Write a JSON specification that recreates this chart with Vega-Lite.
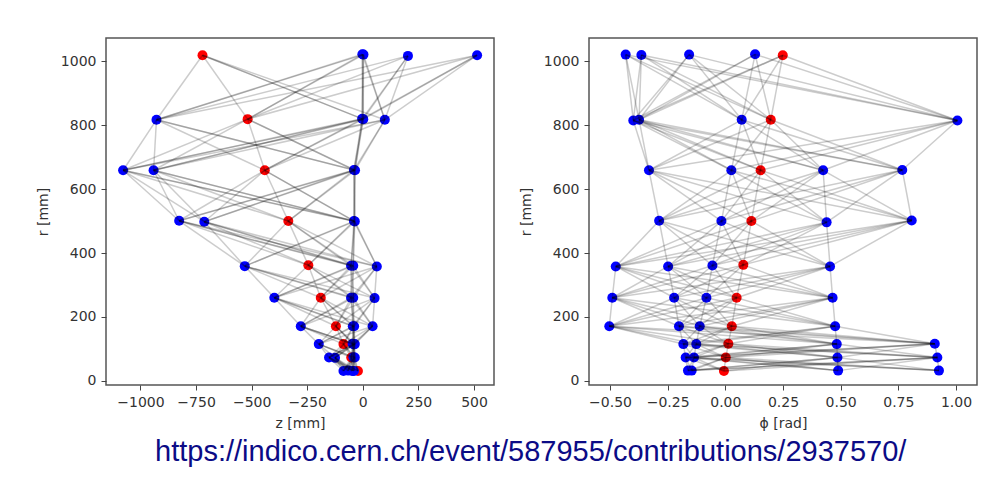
{
  "$schema": "https://vega.github.io/schema/vega-lite/v6.json",
  "padding": {"left": 35, "top": 37, "right": 5, "bottom": 5},
  "autosize": {"type": "pad"},
  "background": "white",
  "title": {"text": "https://indico.cern.ch/event/587955/contributions/2937570/", "orient": "bottom", "anchor": "middle", "font": "Liberation Sans", "fontSize": 29, "fontWeight": "normal", "color": "#0b0b86", "offset": 7, "dx": 24},
  "datasets": {
    "zn": [
      {"id": "1a", "x": -22, "r": 31, "c": "r", "to": ["2a","2b","2c","2d","2e"]},
      {"id": "1b", "x": -87, "r": 31, "c": "b", "to": ["2a","2b","2c","2d","2e"]},
      {"id": "1c", "x": -66, "r": 32, "c": "b", "to": ["2a","2b","2c","2d","2e"]},
      {"id": "1d", "x": -48, "r": 31, "c": "b", "to": ["2a","2b","2c","2d","2e"]},
      {"id": "1e", "x": -40, "r": 31, "c": "b", "to": ["2a","2b","2c","2d","2e"]},
      {"id": "2a", "x": -52, "r": 73, "c": "r", "to": ["3a","3b","3c","3d","3e"]},
      {"id": "2b", "x": -152, "r": 73, "c": "b", "to": ["3a","3b","3c","3d","3e"]},
      {"id": "2c", "x": -125, "r": 72, "c": "b", "to": ["3a","3b","3c","3d","3e"]},
      {"id": "2d", "x": -42, "r": 74, "c": "b", "to": ["3a","3b","3c","3d","3e"]},
      {"id": "2e", "x": -36, "r": 73, "c": "b", "to": ["3a","3b","3c","3d","3e"]},
      {"id": "3a", "x": -87, "r": 115, "c": "r", "to": ["4a","4b","4c","4d","4e"]},
      {"id": "3b", "x": -198, "r": 115, "c": "b", "to": ["4a","4b","4c","4d","4e"]},
      {"id": "3c", "x": -46, "r": 116, "c": "b", "to": ["4a","4b","4c","4d","4e"]},
      {"id": "3d", "x": -40, "r": 114, "c": "b", "to": ["4a","4b","4c","4d","4e"]},
      {"id": "3e", "x": -36, "r": 115, "c": "b", "to": ["4a","4b","4c","4d","4e"]},
      {"id": "4a", "x": -121, "r": 171, "c": "r", "to": ["5a","5b","5c","5d","5e"]},
      {"id": "4b", "x": -279, "r": 171, "c": "b", "to": ["5a","5b","5c","5d","5e"]},
      {"id": "4c", "x": -45, "r": 171, "c": "b", "to": ["5a","5b","5c","5d","5e"]},
      {"id": "4d", "x": -39, "r": 171, "c": "b", "to": ["5a","5b","5c","5d","5e"]},
      {"id": "4e", "x": 44, "r": 171, "c": "b", "to": ["5a","5b","5c","5d","5e"]},
      {"id": "5a", "x": -189, "r": 260, "c": "r", "to": ["6a","6b","6c","6d","6e"]},
      {"id": "5b", "x": -398, "r": 260, "c": "b", "to": ["6a","6b","6c","6d","6e"]},
      {"id": "5c", "x": -53, "r": 260, "c": "b", "to": ["6a","6b","6c","6d","6e"]},
      {"id": "5d", "x": -43, "r": 260, "c": "b", "to": ["6a","6b","6c","6d","6e"]},
      {"id": "5e", "x": 53, "r": 259, "c": "b", "to": ["6a","6b","6c","6d","6e"]},
      {"id": "6a", "x": -245, "r": 362, "c": "r", "to": ["7a","7b","7c","7d","7e"]},
      {"id": "6b", "x": -531, "r": 359, "c": "b", "to": ["7a","7b","7c","7d","7e"]},
      {"id": "6c", "x": -53, "r": 360, "c": "b", "to": ["7a","7b","7c","7d","7e"]},
      {"id": "6d", "x": -43, "r": 360, "c": "b", "to": ["7a","7b","7c","7d","7e"]},
      {"id": "6e", "x": 63, "r": 358, "c": "b", "to": ["7a","7b","7c","7d","7e"]},
      {"id": "7a", "x": -335, "r": 500, "c": "r", "to": ["8a","8b","8c","8d","8e"]},
      {"id": "7b", "x": -826, "r": 501, "c": "b", "to": ["8a","8b","8c","8d","8e"]},
      {"id": "7c", "x": -713, "r": 498, "c": "b", "to": ["8a","8b","8c","8d","8e"]},
      {"id": "7d", "x": -40, "r": 500, "c": "b", "to": ["8a","8b","8c","8d","8e"]},
      {"id": "7e", "x": -36, "r": 499, "c": "b", "to": ["8a","8b","8c","8d","8e"]},
      {"id": "8a", "x": -441, "r": 659, "c": "r", "to": ["9a","9b","9c","9d","9e"]},
      {"id": "8b", "x": -1078, "r": 659, "c": "b", "to": ["9a","9b","9c","9d","9e"]},
      {"id": "8c", "x": -941, "r": 659, "c": "b", "to": ["9a","9b","9c","9d","9e"]},
      {"id": "8d", "x": -40, "r": 660, "c": "b", "to": ["9a","9b","9c","9d","9e"]},
      {"id": "8e", "x": -35, "r": 659, "c": "b", "to": ["9a","9b","9c","9d","9e"]},
      {"id": "9a", "x": -518, "r": 819, "c": "r", "to": ["10a","10b","10c","10d","10e"]},
      {"id": "9b", "x": -928, "r": 817, "c": "b", "to": ["10a","10b","10c","10d","10e"]},
      {"id": "9c", "x": -3, "r": 820, "c": "b", "to": ["10a","10b","10c","10d","10e"]},
      {"id": "9d", "x": 2, "r": 819, "c": "b", "to": ["10a","10b","10c","10d","10e"]},
      {"id": "9e", "x": 99, "r": 817, "c": "b", "to": ["10a","10b","10c","10d","10e"]},
      {"id": "10a", "x": -721, "r": 1019, "c": "r", "to": []},
      {"id": "10b", "x": -2, "r": 1022, "c": "b", "to": []},
      {"id": "10c", "x": 3, "r": 1021, "c": "b", "to": []},
      {"id": "10d", "x": 203, "r": 1017, "c": "b", "to": []},
      {"id": "10e", "x": 514, "r": 1019, "c": "b", "to": []}
    ],
    "pn": [
      {"id": "1a", "x": -0.006, "r": 31, "c": "r", "to": ["2a","2b","2c","2d","2e"]},
      {"id": "1b", "x": -0.162, "r": 32, "c": "b", "to": ["2a","2b","2c","2d","2e"]},
      {"id": "1c", "x": -0.146, "r": 32, "c": "b", "to": ["2a","2b","2c","2d","2e"]},
      {"id": "1d", "x": 0.489, "r": 32, "c": "b", "to": ["2a","2b","2c","2d","2e"]},
      {"id": "1e", "x": 0.926, "r": 32, "c": "b", "to": ["2a","2b","2c","2d","2e"]},
      {"id": "2a", "x": 0.002, "r": 73, "c": "r", "to": ["3a","3b","3c","3d","3e"]},
      {"id": "2b", "x": -0.172, "r": 73, "c": "b", "to": ["3a","3b","3c","3d","3e"]},
      {"id": "2c", "x": -0.136, "r": 73, "c": "b", "to": ["3a","3b","3c","3d","3e"]},
      {"id": "2d", "x": 0.486, "r": 73, "c": "b", "to": ["3a","3b","3c","3d","3e"]},
      {"id": "2e", "x": 0.919, "r": 73, "c": "b", "to": ["3a","3b","3c","3d","3e"]},
      {"id": "3a", "x": 0.013, "r": 116, "c": "r", "to": ["4a","4b","4c","4d","4e"]},
      {"id": "3b", "x": -0.182, "r": 115, "c": "b", "to": ["4a","4b","4c","4d","4e"]},
      {"id": "3c", "x": -0.126, "r": 115, "c": "b", "to": ["4a","4b","4c","4d","4e"]},
      {"id": "3d", "x": 0.483, "r": 115, "c": "b", "to": ["4a","4b","4c","4d","4e"]},
      {"id": "3e", "x": 0.908, "r": 116, "c": "b", "to": ["4a","4b","4c","4d","4e"]},
      {"id": "4a", "x": 0.028, "r": 171, "c": "r", "to": ["5a","5b","5c","5d","5e"]},
      {"id": "4b", "x": -0.503, "r": 171, "c": "b", "to": ["5a","5b","5c","5d","5e"]},
      {"id": "4c", "x": -0.201, "r": 171, "c": "b", "to": ["5a","5b","5c","5d","5e"]},
      {"id": "4d", "x": -0.111, "r": 171, "c": "b", "to": ["5a","5b","5c","5d","5e"]},
      {"id": "4e", "x": 0.476, "r": 171, "c": "b", "to": ["5a","5b","5c","5d","5e"]},
      {"id": "5a", "x": 0.049, "r": 260, "c": "r", "to": ["6a","6b","6c","6d","6e"]},
      {"id": "5b", "x": -0.490, "r": 260, "c": "b", "to": ["6a","6b","6c","6d","6e"]},
      {"id": "5c", "x": -0.222, "r": 260, "c": "b", "to": ["6a","6b","6c","6d","6e"]},
      {"id": "5d", "x": -0.082, "r": 260, "c": "b", "to": ["6a","6b","6c","6d","6e"]},
      {"id": "5e", "x": 0.465, "r": 260, "c": "b", "to": ["6a","6b","6c","6d","6e"]},
      {"id": "6a", "x": 0.078, "r": 363, "c": "r", "to": ["7a","7b","7c","7d","7e"]},
      {"id": "6b", "x": -0.475, "r": 358, "c": "b", "to": ["7a","7b","7c","7d","7e"]},
      {"id": "6c", "x": -0.248, "r": 358, "c": "b", "to": ["7a","7b","7c","7d","7e"]},
      {"id": "6d", "x": -0.056, "r": 361, "c": "b", "to": ["7a","7b","7c","7d","7e"]},
      {"id": "6e", "x": 0.454, "r": 358, "c": "b", "to": ["7a","7b","7c","7d","7e"]},
      {"id": "7a", "x": 0.113, "r": 500, "c": "r", "to": ["8a","8b","8c","8d","8e"]},
      {"id": "7b", "x": -0.287, "r": 501, "c": "b", "to": ["8a","8b","8c","8d","8e"]},
      {"id": "7c", "x": -0.017, "r": 500, "c": "b", "to": ["8a","8b","8c","8d","8e"]},
      {"id": "7d", "x": 0.439, "r": 496, "c": "b", "to": ["8a","8b","8c","8d","8e"]},
      {"id": "7e", "x": 0.808, "r": 502, "c": "b", "to": ["8a","8b","8c","8d","8e"]},
      {"id": "8a", "x": 0.153, "r": 659, "c": "r", "to": ["9a","9b","9c","9d","9e"]},
      {"id": "8b", "x": -0.331, "r": 659, "c": "b", "to": ["9a","9b","9c","9d","9e"]},
      {"id": "8c", "x": 0.026, "r": 659, "c": "b", "to": ["9a","9b","9c","9d","9e"]},
      {"id": "8d", "x": 0.424, "r": 659, "c": "b", "to": ["9a","9b","9c","9d","9e"]},
      {"id": "8e", "x": 0.767, "r": 660, "c": "b", "to": ["9a","9b","9c","9d","9e"]},
      {"id": "9a", "x": 0.197, "r": 817, "c": "r", "to": ["10a","10b","10c","10d","10e"]},
      {"id": "9b", "x": -0.399, "r": 815, "c": "b", "to": ["10a","10b","10c","10d","10e"]},
      {"id": "9c", "x": -0.374, "r": 817, "c": "b", "to": ["10a","10b","10c","10d","10e"]},
      {"id": "9d", "x": 0.071, "r": 817, "c": "b", "to": ["10a","10b","10c","10d","10e"]},
      {"id": "9e", "x": 1.006, "r": 815, "c": "b", "to": ["10a","10b","10c","10d","10e"]},
      {"id": "10a", "x": 0.249, "r": 1019, "c": "r", "to": []},
      {"id": "10b", "x": -0.432, "r": 1021, "c": "b", "to": []},
      {"id": "10c", "x": -0.364, "r": 1020, "c": "b", "to": []},
      {"id": "10d", "x": -0.157, "r": 1021, "c": "b", "to": []},
      {"id": "10e", "x": 0.129, "r": 1022, "c": "b", "to": []}
    ]
  },
  "spacing": 23,
  "hconcat": [
    {
      "width": 388,
      "height": 347,
      "data": {"name": "zn"},
      "layer": [
        {
          "mark": {"type": "circle", "size": 100, "opacity": 1},
          "encoding": {
            "x": {"field": "x", "type": "quantitative", "scale": {"domain": [-1155, 590], "nice": false, "zero": false}, "axis": {"title": "z [mm]", "values": [-1000, -750, -500, -250, 0, 250, 500], "format": "d"}},
            "y": {"field": "r", "type": "quantitative", "scale": {"domain": [-13, 1073], "nice": false, "zero": false}, "axis": {"title": "r [mm]", "values": [0, 200, 400, 600, 800, 1000], "format": "d"}},
            "color": {"field": "c", "type": "nominal", "scale": {"domain": ["b", "r"], "range": ["#0000ff", "#ff0000"]}, "legend": null}
          }
        },
        {
          "transform": [
            {"flatten": ["to"]},
            {"lookup": "to", "from": {"data": {"name": "zn"}, "key": "id", "fields": ["x", "r"]}, "as": ["x2", "r2"]}
          ],
          "mark": {"type": "rule", "color": "#000000", "opacity": 0.2, "strokeWidth": 1.5},
          "encoding": {
            "x": {"field": "x", "type": "quantitative"},
            "y": {"field": "r", "type": "quantitative"},
            "x2": {"field": "x2"},
            "y2": {"field": "r2"}
          }
        }
      ]
    },
    {
      "width": 388,
      "height": 347,
      "data": {"name": "pn"},
      "layer": [
        {
          "mark": {"type": "circle", "size": 100, "opacity": 1},
          "encoding": {
            "x": {"field": "x", "type": "quantitative", "scale": {"domain": [-0.591, 1.091], "nice": false, "zero": false}, "axis": {"title": "ϕ [rad]", "values": [-0.5, -0.25, 0, 0.25, 0.5, 0.75, 1.0], "format": ".2f"}},
            "y": {"field": "r", "type": "quantitative", "scale": {"domain": [-13, 1073], "nice": false, "zero": false}, "axis": {"title": "r [mm]", "values": [0, 200, 400, 600, 800, 1000], "format": "d"}},
            "color": {"field": "c", "type": "nominal", "scale": {"domain": ["b", "r"], "range": ["#0000ff", "#ff0000"]}, "legend": null}
          }
        },
        {
          "transform": [
            {"flatten": ["to"]},
            {"lookup": "to", "from": {"data": {"name": "pn"}, "key": "id", "fields": ["x", "r"]}, "as": ["x2", "r2"]}
          ],
          "mark": {"type": "rule", "color": "#000000", "opacity": 0.2, "strokeWidth": 1.5},
          "encoding": {
            "x": {"field": "x", "type": "quantitative"},
            "y": {"field": "r", "type": "quantitative"},
            "x2": {"field": "x2"},
            "y2": {"field": "r2"}
          }
        }
      ]
    }
  ],
  "resolve": {"scale": {"x": "independent", "color": "shared"}},
  "config": {
    "view": {"stroke": "#555555", "strokeWidth": 1.5},
    "axis": {
      "domain": false,
      "grid": false,
      "labelFont": "DejaVu Sans",
      "labelFontSize": 14,
      "labelColor": "#333333",
      "titleFont": "DejaVu Sans",
      "titleFontSize": 14,
      "titleFontWeight": "normal",
      "titleColor": "#333333",
      "tickColor": "#444444",
      "tickSize": 5,
      "tickWidth": 1,
      "labelPadding": 5,
      "labelOverlap": false,
      "labelFlush": false
    },
    "axisX": {"titlePadding": 7},
    "axisY": {"titlePadding": 10}
  }
}
